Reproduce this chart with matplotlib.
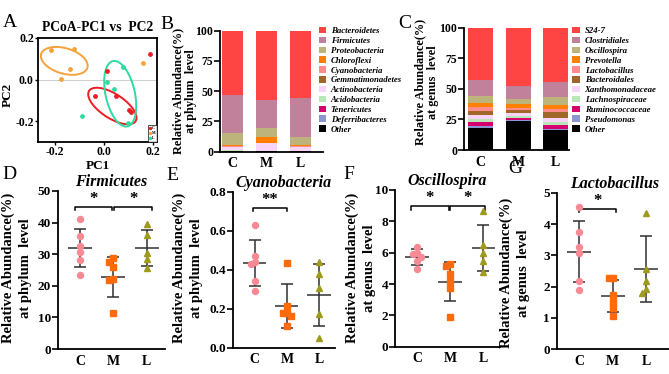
import matplotlib.pyplot as plt
import numpy as np
from matplotlib.patches import Ellipse

plt.rcParams['font.family'] = ['Liberation Serif', 'DejaVu Serif']
plt.rcParams['font.weight'] = 'bold'
plt.rcParams['axes.labelweight'] = 'bold'
plt.rcParams['axes.unicode_minus'] = False
plt.rcParams['axes.linewidth'] = 1.3

groups = ['C', 'M', 'L']

# ---- panel A: PCoA ----
pc_C_x = [0.186, 0.012, -0.038, 0.046, 0.102, 0.109]
pc_C_y = [0.125, 0.039, -0.077, -0.077, -0.146, -0.155]
pc_M_x = [-0.218, -0.124, -0.139, -0.177, 0.158]
pc_M_y = [0.141, 0.146, 0.052, 0.003, 0.078]
pc_L_x = [0.076, 0.010, 0.040, -0.090, 0.098]
pc_L_y = [0.060, -0.013, -0.045, -0.177, -0.211]
# confidence ellipses: centre x, centre y, width, height, angle
ell_C = (0.033, -0.127, 0.24, 0.11, -40)
ell_M = (-0.163, 0.09, 0.2, 0.12, -22)
ell_L = (0.065, -0.068, 0.12, 0.32, 10)

# ---- panel B: phylum level ----
phylum_names = ['Bacteroidetes', 'Firmicutes', 'Proteobacteria', 'Chloroflexi',
                'Cyanobacteria', 'Gemmatimonadetes', 'Actinobacteria',
                'Acidobacteria', 'Tenericutes', 'Deferribacteres', 'Other']
phylum_C = [53.3, 31.4, 9.6, 1.3, 0.43, 0.3, 2.6, 0.2, 0.2, 0.1, 0.57]
phylum_M = [57.4, 23.2, 7.4, 4.4, 0.22, 0.3, 6.2, 0.2, 0.2, 0.1, 0.38]
phylum_L = [56.0, 31.5, 6.8, 1.4, 0.27, 0.3, 2.8, 0.2, 0.2, 0.1, 0.43]
phylum_colors = ['#FF4444', '#C2819A', '#BDB47C', '#FF8000', '#FF8C8C', '#A0662A',
                 '#F8D4F8', '#B8E8B8', '#D4006E', '#8C96D2', '#000000']

# ---- panel C: genus level ----
genus_names = ['S24-7', 'Clostridiales', 'Oscillospira', 'Prevotella', 'Lactobacillus',
               'Bacteroidales', 'Xanthomonadaceae', 'Lachnospiraceae',
               'Ruminococcaceae', 'Pseudomonas', 'Other']
genus_C = [42.6, 13.0, 5.8, 3.5, 3.1, 3.0, 4.0, 2.5, 3.0, 1.5, 18.0]
genus_M = [47.7, 10.4, 4.2, 3.0, 1.7, 2.5, 2.5, 1.5, 2.0, 1.0, 23.5]
genus_L = [44.2, 12.4, 6.3, 3.5, 2.6, 4.5, 3.5, 2.5, 3.5, 1.0, 16.0]
genus_colors = phylum_colors

# ---- panels D-G: single taxa ----
firm_C = [41.2, 35.9, 32.5, 30.6, 28.3, 23.5]
firm_M = [28.8, 27.4, 25.9, 22.2, 21.7, 11.3]
firm_L = [39.7, 36.0, 30.4, 28.5, 25.6]
cyano_C = [0.63, 0.47, 0.44, 0.43, 0.345, 0.29]
cyano_M = [0.434, 0.216, 0.18, 0.18, 0.165, 0.112]
cyano_L = [0.44, 0.378, 0.309, 0.173, 0.05]
osci_C = [6.38, 5.96, 5.9, 5.7, 5.5, 4.94]
osci_M = [5.28, 5.15, 4.62, 4.17, 3.77, 1.87]
osci_L = [8.68, 6.49, 5.96, 5.49, 4.79]
lacto_C = [4.55, 3.74, 3.28, 3.09, 2.19, 1.89]
lacto_M = [2.29, 2.27, 1.73, 1.52, 1.3, 1.07]
lacto_L = [4.37, 2.56, 2.18, 1.91, 1.79]

W, H = 669, 374
fig = plt.figure(figsize=(W / 100, H / 100), dpi=100)


def box(l, t, r, b):
    return [l / W, 1 - b / H, (r - l) / W, (b - t) / H]


def style_axes(ax):
    ax.spines['top'].set_visible(False)
    ax.spines['right'].set_visible(False)
    ax.tick_params(axis='y', direction='out', length=4, width=1.2, pad=1)
    ax.tick_params(axis='x', length=0, pad=4)


# ---------------- A ----------------
axA = fig.add_axes(box(38, 38, 157, 142))
pcoa_colors = ['#EE1C25', '#F7A23A', '#2EDB9E']
pts = [(pc_C_x, pc_C_y), (pc_M_x, pc_M_y), (pc_L_x, pc_L_y)]
for (xs, ys), col, e, g in zip(pts, pcoa_colors, [ell_C, ell_M, ell_L], groups):
    axA.scatter(xs, ys, s=6, color=col, label=g, zorder=3)
    axA.add_patch(Ellipse((e[0], e[1]), e[2], e[3], angle=e[4], fill=False,
                          edgecolor=col, lw=1.4))
axA.axhline(0, color='#C8C8C8', lw=0.6, zorder=0)
axA.set_xlim(-0.27, 0.215)
axA.set_ylim(-0.3, 0.2)
axA.set_xticks([-0.2, 0.0, 0.2])
axA.set_yticks([-0.2, 0.0, 0.2])
axA.xaxis.set_major_formatter(plt.FormatStrFormatter('%.1f'))
axA.yaxis.set_major_formatter(plt.FormatStrFormatter('%.1f'))
axA.tick_params(labelsize=8.5, length=2, width=1, pad=1)
axA.set_xlabel('PC1', fontsize=9.5, labelpad=1)
axA.set_ylabel('PC2', fontsize=9.5)
axA.yaxis.set_label_coords(-0.2, 0.45)
axA.set_title('PCoA-PC1 vs  PC2', fontsize=9.8, fontweight='bold', pad=5)
legA = axA.legend(loc='lower right', fontsize=2.8, markerscale=0.6, handletextpad=0.2,
                  borderpad=0.3, labelspacing=0.3, handlelength=0.6, frameon=True,
                  fancybox=False, borderaxespad=0.1)
legA.get_frame().set_edgecolor('black')
legA.get_frame().set_linewidth(0.6)


# ---------------- B / C ----------------
def stacked(ax, rows, names, colors, width):
    data = np.array(rows)
    x = np.arange(len(groups))
    bottom = np.zeros(len(groups))
    handles = {}
    for k in range(len(names) - 1, -1, -1):
        b = ax.bar(x, data[:, k], width, bottom=bottom, color=colors[k], linewidth=0)
        handles[names[k]] = b
        bottom += data[:, k]
    ax.set_ylim(0, 100)
    ax.set_yticks([0, 25, 50, 75, 100])
    ax.set_xticks(x)
    ax.set_xticklabels(groups, fontsize=10)
    ax.tick_params(axis='y', labelsize=8.5)
    style_axes(ax)
    return [handles[n] for n in names]


axB = fig.add_axes(box(220, 30.7, 323, 151.7))
hB = stacked(axB, [phylum_C, phylum_M, phylum_L], phylum_names, phylum_colors, 0.64)
axB.set_xlim(-0.37, 2.66)
fig.legend(hB, phylum_names, loc='upper left', bbox_to_anchor=(319 / W, 1 - 27 / H),
           frameon=False, prop={'size': 6.3, 'style': 'italic', 'weight': 'bold'},
           handlelength=0.85, handleheight=0.75, handletextpad=0.5, labelspacing=0.18,
           borderpad=0, borderaxespad=0)

axC = fig.add_axes(box(464, 27.7, 569, 150))
hC = stacked(axC, [genus_C, genus_M, genus_L], genus_names, genus_colors, 0.67)
axC.set_xlim(-0.45, 2.35)
fig.legend(hC, genus_names, loc='upper left', bbox_to_anchor=(572 / W, 1 - 27 / H),
           frameon=False, prop={'size': 6.3, 'style': 'italic', 'weight': 'bold'},
           handlelength=0.95, handleheight=0.75, handletextpad=0.5, labelspacing=0.18,
           borderpad=0, borderaxespad=0)

fig.text(185 / W, 1 - 91 / H, 'Relative Abundance(%)\nat phylum  level', rotation=90,
         ha='center', va='center', fontsize=8.8, fontweight='bold', linespacing=1.1)
fig.text(427 / W, 1 - 82 / H, 'Relative Abundance(%)\nat genus  level', rotation=90,
         ha='center', va='center', fontsize=8.8, fontweight='bold', linespacing=1.1)

# ---------------- D-G ----------------
dot_colors = ['#F78A94', '#FF6A0D', '#9E9A1C']
dot_markers = ['o', 's', '^']


def swarm(vals, thr, step=0.12):
    placed, offs = [], []
    for v in vals:
        for c in [0, -step, step, -2 * step, 2 * step]:
            if all(abs(c - o) > 0.01 or abs(v - pv) >= thr for o, pv in placed):
                break
        placed.append((c, v))
        offs.append(c)
    return offs


def bracket(ax, x1, x2, y, h, txt):
    ax.plot([x1, x1, x2, x2], [y - h, y, y, y - h], color='black', lw=1.1,
            clip_on=False)
    ax.text((x1 + x2) / 2, y - 0.01 * h, txt, ha='center', va='bottom', fontsize=12,
            fontweight='bold')


def dots(ax, series, ymax, ticks, title, sigs):
    for i, vals in enumerate(series):
        vals = np.array(vals)
        offs = swarm(vals, ymax * 0.03)
        ax.plot(i + np.array(offs), vals, linestyle='none', marker=dot_markers[i],
                ms=4.3, color=dot_colors[i], zorder=3, clip_on=False)
        m, sd = vals.mean(), vals.std(ddof=1)
        ax.errorbar(i, m, yerr=sd, color='#303030', lw=1.1, capsize=4.5,
                    capthick=1.1, zorder=2)
        ax.hlines(m, i - 0.36, i + 0.36, color='#303030', lw=1.1, zorder=2)
    ax.set_ylim(0, ymax)
    ax.set_yticks(ticks)
    ax.set_xticks(range(3))
    ax.set_xticklabels(groups, fontsize=10)
    ax.tick_params(axis='y', labelsize=9.5)
    style_axes(ax)
    ax.set_title(title, fontsize=11.5, fontstyle='italic', fontweight='bold', pad=3.5)
    for x1, x2, y, t in sigs:
        bracket(ax, x1, x2, y * ymax, 0.02 * ymax, t)


axD = fig.add_axes(box(58, 191, 165, 349))
dots(axD, [firm_C, firm_M, firm_L], 50, [0, 10, 20, 30, 40, 50], 'Firmicutes',
     [(-0.15, 0.97, 0.9, '*'), (1.03, 2.15, 0.9, '*')])
axD.set_xlim(-0.66, 2.55)

axE = fig.add_axes(box(233, 192, 335, 347.7))
dots(axE, [cyano_C, cyano_M, cyano_L], 0.8, [0.0, 0.2, 0.4, 0.6, 0.8], 'Cyanobacteria',
     [(-0.05, 1.0, 0.9, '**')])
axE.yaxis.set_major_formatter(plt.FormatStrFormatter('%.1f'))
axE.set_xlim(-0.68, 2.5)

axF = fig.add_axes(box(395, 190, 500, 346.7))
dots(axF, [osci_C, osci_M, osci_L], 10, [0, 2, 4, 6, 8, 10], 'Oscillospira',
     [(-0.2, 0.95, 0.895, '*'), (1.0, 2.05, 0.895, '*')])
axF.set_xlim(-0.67, 2.5)

axG = fig.add_axes(box(557, 193, 672, 349))
dots(axG, [lacto_C, lacto_M, lacto_L], 5, [0, 1, 2, 3, 4, 5], 'Lactobacillus',
     [(0.0, 1.1, 0.9, '*')])
axG.set_xlim(-0.66, 2.77)

ylab_phy = 'Relative Abundance(%)\nat phylum  level'
ylab_gen = 'Relative Abundance(%)\nat genus  level'
for xc, yc, t in [(17, 268, ylab_phy), (188, 268, ylab_phy),
                  (361, 268, ylab_gen), (515, 273, ylab_gen)]:
    fig.text(xc / W, 1 - yc / H, t, rotation=90, ha='center', va='center',
             fontsize=10.5, fontweight='bold', linespacing=1.4)

# panel letters
for x, y, t in [(3, 14, 'A'), (160, 16, 'B'), (398, 15, 'C'), (2, 166, 'D'),
                (166, 167, 'E'), (343, 166, 'F'), (508, 160, 'G')]:
    fig.text(x / W, 1 - y / H, t, ha='left', va='top', fontsize=14,
             fontweight='normal')

fig.savefig('out.png', dpi=100)
